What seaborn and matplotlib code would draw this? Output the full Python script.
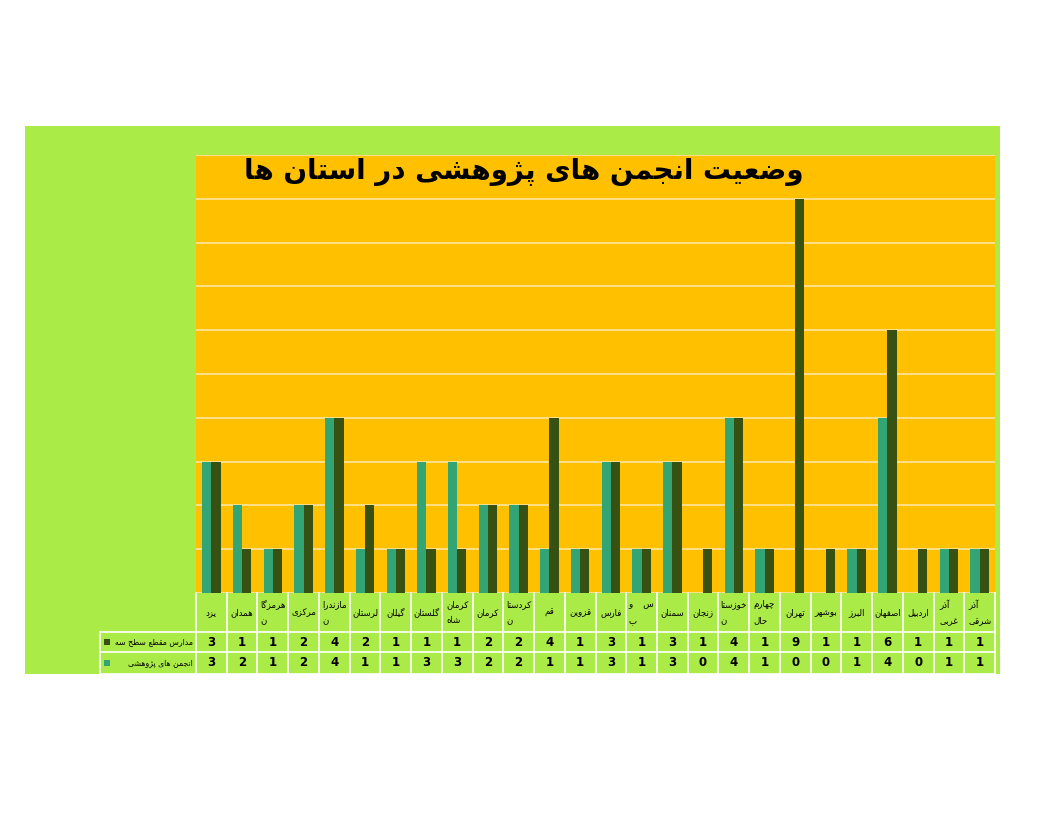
import matplotlib
matplotlib.use('Agg')
import matplotlib.pyplot as plt
import matplotlib.patches as mpatches
import matplotlib.transforms as mtransforms
import seaborn as sns
import pandas as pd

# داده ها (از چپ به راست همانطور که در نمودار دیده می شود)
provinces = ['یزد', 'همدان', 'هرمزگا\nن', 'مرکزی', 'مازندرا\nن', 'لرستان', 'گیلان',
             'گلستان', 'کرمان\nشاه', 'کرمان', 'کردستا\nن', 'قم', 'قزوین', 'فارس',
             'س    و\nب', 'سمنان', 'زنجان', 'خوزستا\nن', 'چهارم\nحال', 'تهران', 'بوشهر',
             'البرز', 'اصفهان', 'اردبیل', 'آذر\nغربی', 'آذر\nشرقی']
schools = [3, 1, 1, 2, 4, 2, 1, 1, 1, 2, 2, 4, 1, 3, 1, 3, 1, 4, 1, 9, 1, 1, 6, 1, 1, 1]
societies = [3, 2, 1, 2, 4, 1, 1, 3, 3, 2, 2, 1, 1, 3, 1, 3, 0, 4, 1, 0, 0, 1, 4, 0, 1, 1]
name_schools = 'مدارس مقطع سطح سه'
name_societies = 'انجمن های پژوهشی'
title = 'وضعیت انجمن های پژوهشی در استان ها'

C_SCHOOLS = '#375112'
C_SOCIETIES = '#33A474'
C_PANEL = '#ABEB47'
C_PLOT = '#FFC000'

# شکل دهی حروف فارسی (matplotlib خودش این کار را نمی کند)
FORMS = {
    'ا': ('\uFE8D', '\uFE8E', None, None),
    'آ': ('\uFE81', '\uFE82', None, None),
    'ب': ('\uFE8F', '\uFE90', '\uFE91', '\uFE92'),
    'پ': ('\uFB56', '\uFB57', '\uFB58', '\uFB59'),
    'ت': ('\uFE95', '\uFE96', '\uFE97', '\uFE98'),
    'ج': ('\uFE9D', '\uFE9E', '\uFE9F', '\uFEA0'),
    'چ': ('\uFB7A', '\uFB7B', '\uFB7C', '\uFB7D'),
    'ح': ('\uFEA1', '\uFEA2', '\uFEA3', '\uFEA4'),
    'خ': ('\uFEA5', '\uFEA6', '\uFEA7', '\uFEA8'),
    'د': ('\uFEA9', '\uFEAA', None, None),
    'ذ': ('\uFEAB', '\uFEAC', None, None),
    'ر': ('\uFEAD', '\uFEAE', None, None),
    'ز': ('\uFEAF', '\uFEB0', None, None),
    'ژ': ('\uFB8A', '\uFB8B', None, None),
    'س': ('\uFEB1', '\uFEB2', '\uFEB3', '\uFEB4'),
    'ش': ('\uFEB5', '\uFEB6', '\uFEB7', '\uFEB8'),
    'ص': ('\uFEB9', '\uFEBA', '\uFEBB', '\uFEBC'),
    'ض': ('\uFEBD', '\uFEBE', '\uFEBF', '\uFEC0'),
    'ط': ('\uFEC1', '\uFEC2', '\uFEC3', '\uFEC4'),
    'ع': ('\uFEC9', '\uFECA', '\uFECB', '\uFECC'),
    'غ': ('\uFECD', '\uFECE', '\uFECF', '\uFED0'),
    'ف': ('\uFED1', '\uFED2', '\uFED3', '\uFED4'),
    'ق': ('\uFED5', '\uFED6', '\uFED7', '\uFED8'),
    'ک': ('\uFB8E', '\uFB8F', '\uFB90', '\uFB91'),
    'گ': ('\uFB92', '\uFB93', '\uFB94', '\uFB95'),
    'ل': ('\uFEDD', '\uFEDE', '\uFEDF', '\uFEE0'),
    'م': ('\uFEE1', '\uFEE2', '\uFEE3', '\uFEE4'),
    'ن': ('\uFEE5', '\uFEE6', '\uFEE7', '\uFEE8'),
    'و': ('\uFEED', '\uFEEE', None, None),
    'ه': ('\uFEE9', '\uFEEA', '\uFEEB', '\uFEEC'),
    'ی': ('\uFBFC', '\uFBFD', '\uFBFE', '\uFBFF'),
}


def shape_line(line):
    out = []
    for i, ch in enumerate(line):
        if ch not in FORMS:
            out.append(ch)
            continue
        iso, fin, ini, med = FORMS[ch]
        prev = line[i - 1] if i > 0 else ''
        nxt = line[i + 1] if i + 1 < len(line) else ''
        join_prev = prev in FORMS and FORMS[prev][2] is not None
        join_next = ini is not None and nxt in FORMS
        if join_prev and join_next:
            out.append(med)
        elif join_prev:
            out.append(fin)
        elif join_next:
            out.append(ini)
        else:
            out.append(iso)
    return ''.join(reversed(out))


def fa(text):
    return '\n'.join(shape_line(l) for l in text.split('\n'))


plt.rcParams['font.family'] = ['DejaVu Sans']

df = pd.DataFrame({
    'province': provinces * 2,
    'value': societies + schools,
    'series': [name_societies] * len(provinces) + [name_schools] * len(provinces),
})

W, H = 1056, 816
fig = plt.figure(figsize=(W / 100, H / 100), dpi=100)
fig.patch.set_facecolor('white')

# پس زمینه سبز
fig.add_artist(mpatches.Rectangle((25 / W, 1 - 674 / H), 975 / W, 548 / H,
                                  transform=fig.transFigure, facecolor=C_PANEL,
                                  edgecolor='none', zorder=0))

ax = fig.add_axes([196 / W, 1 - 593 / H, 799 / W, 438 / H])
ax.set_facecolor(C_PLOT)
sns.barplot(data=df, x='province', y='value', hue='series', order=provinces,
            hue_order=[name_societies, name_schools],
            palette=[C_SOCIETIES, C_SCHOOLS], width=0.6, gap=0, saturation=1,
            legend=False, ax=ax)
ax.set_xlim(-0.5, len(provinces) - 0.5)
ax.set_ylim(0, 10)
ax.set_yticks(range(11))
ax.yaxis.grid(True, color='#FFE6A0', lw=1.2)
ax.set_axisbelow(True)
ax.tick_params(length=0, labelleft=False, labelbottom=False)
ax.set_xlabel('')
ax.set_ylabel('')
for s in ax.spines.values():
    s.set_visible(False)

# جدول داده زیر نمودار
trans = mtransforms.blended_transform_factory(ax.transData, fig.transFigure)
y0, y1, y2, y3 = [1 - p / H for p in (593, 632, 652, 674)]
n = len(provinces)
line_kw = dict(color='white', lw=1.2, zorder=3)
for k in range(n + 1):
    fig.add_artist(plt.Line2D([k - 0.5, k - 0.5], [y3, y0], transform=trans, **line_kw))
for yy in (y1, y2, y3):
    fig.add_artist(plt.Line2D([100 / W, 995 / W], [yy, yy], transform=fig.transFigure, **line_kw))
fig.add_artist(plt.Line2D([100 / W, 100 / W], [y3, y1], transform=fig.transFigure, **line_kw))

for i, name in enumerate(provinces):
    multi = '\n' in name
    fig.text(i, (y0 + y1) / 2, fa(name), transform=trans, ha='center', va='center',
             fontsize=6.2, multialignment='left', linespacing=2.0 if multi else 1.2)
    fig.text(i, (y1 + y2) / 2, str(schools[i]), transform=trans, ha='center',
             va='center', fontsize=8.5, fontweight='bold')
    fig.text(i, (y2 + y3) / 2, str(societies[i]), transform=trans, ha='center',
             va='center', fontsize=8.5, fontweight='bold')

for yy, label, col in (((y1 + y2) / 2, name_schools, C_SCHOOLS),
                       ((y2 + y3) / 2, name_societies, C_SOCIETIES)):
    fig.add_artist(mpatches.Rectangle((104 / W, yy - 3 / H), 6 / W, 6 / H,
                                      transform=fig.transFigure, facecolor=col,
                                      edgecolor='none', zorder=3))
    fig.text(193 / W, yy, fa(label), ha='right', va='center', fontsize=5.6)

# عنوان
fig.text(524 / W, 1 - 172 / H, fa(title), ha='center', va='center', fontsize=20,
         fontweight='bold')

fig.savefig('out.png', dpi=100)
